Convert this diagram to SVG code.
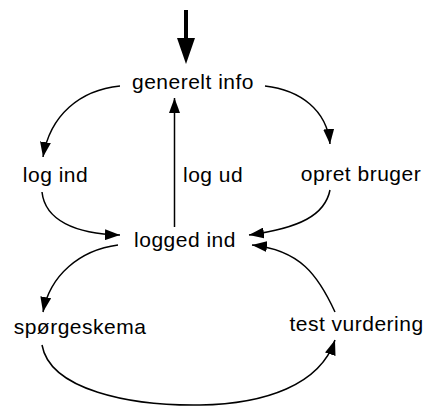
<svg xmlns="http://www.w3.org/2000/svg" width="426" height="407" viewBox="0 0 426 407">
<style>
text{font-family:"Liberation Sans",Arial,sans-serif;font-size:21px;letter-spacing:0.5px;fill:#000;text-anchor:middle}
.c{fill:none;stroke:#000;stroke-width:1.5}
</style>
<defs>
<marker id="ah" markerUnits="userSpaceOnUse" markerWidth="15" markerHeight="11" refX="15" refY="5.5" orient="auto" viewBox="0 0 15 11">
<path d="M0,0 L15,5.5 L0,11 z" fill="#000"/>
</marker>
</defs>
<rect width="426" height="407" fill="#fff"/>
<g id="connectors">
<line x1="186" y1="10" x2="186" y2="40" stroke="#000" stroke-width="4"/>
<polygon points="177,38 195,38 186,64" fill="#000"/>
<path class="c" d="M120,86 C80,90 50,115 43,157" marker-end="url(#ah)"/>
<path class="c" d="M265,86 C300,90 327,110 330,144" marker-end="url(#ah)"/>
<path class="c" d="M42,192 C45,220 75,234 120,235" marker-end="url(#ah)"/>
<path class="c" d="M330,190 C325,215 300,228 249,235" marker-end="url(#ah)"/>
<path class="c" d="M174.5,227 L174.5,98" marker-end="url(#ah)"/>
<path class="c" d="M118,245 C80,250 50,275 43,312" marker-end="url(#ah)"/>
<path class="c" d="M42,345 C50,390 130,406 200,405 C265,404 320,385 335,340" marker-end="url(#ah)"/>
<path class="c" d="M335,312 C318,275 300,250 252,245" marker-end="url(#ah)"/>
<text x="183" y="182" style="text-anchor:start">log ud</text>
</g>
<g id="generelt-info"><text x="193" y="88.5">generelt info</text></g>
<g id="log-ind"><text x="55.5" y="182">log ind</text></g>
<g id="opret-bruger"><text x="361" y="181">opret bruger</text></g>
<g id="logged-ind"><text x="185" y="247">logged ind</text></g>
<g id="spoergeskema"><text x="80" y="334">spørgeskema</text></g>
<g id="test-vurdering"><text x="356.5" y="331">test vurdering</text></g>
</svg>
